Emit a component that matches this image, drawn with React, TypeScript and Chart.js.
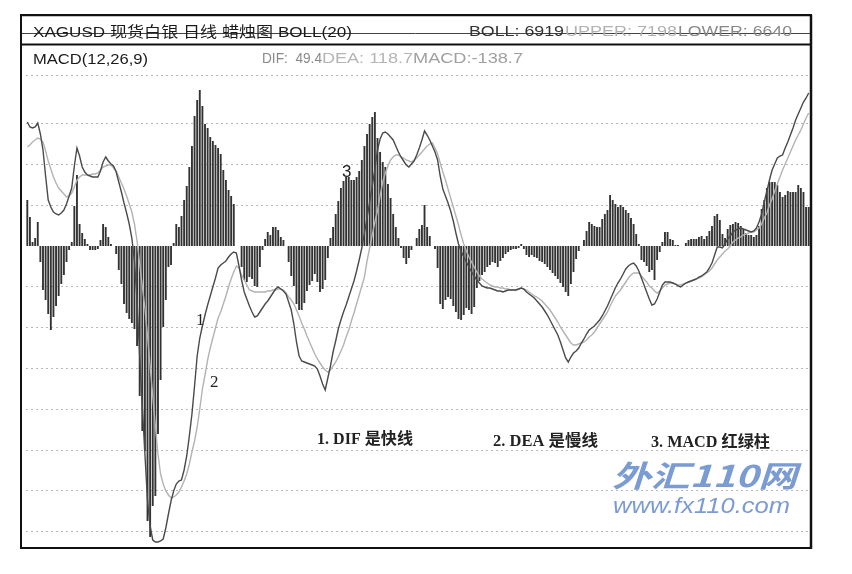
import React, { useEffect, useRef } from "react";
import { Chart, registerables } from "chart.js";

Chart.register(...registerables);

// MACD histogram (red/green bars), DIF (fast line), DEA (slow line)
const MACD_BARS: number[] = [
  46, 29, 4, 8, 24, -16, -44, -54, -68, -84,
  -71, -60, -50, -38, -29, -16, -4, 4, 40, 71,
  22, 13, 7, 2, -4, -4, -4, -3, 6, 22,
  19, 9, 2, 0, -8, -24, -38, -58, -67, -73,
  -77, -83, -100, -150, -185, -205, -275, -291, -260, -250,
  -188, -134, -81, -54, -21, -19, 3, 22, 19, 30,
  46, 60, 79, 100, 130, 146, 156, 140, 122, 118,
  109, 105, 101, 98, 92, 76, 66, 56, 50, 42,
  0, 0, -21, -34, -36, -31, -33, -40, -41, -21,
  -4, 7, 14, 11, 19, 19, 16, 9, 6, 0,
  -16, -30, -40, -58, -64, -64, -57, -45, -39, -35,
  -28, -36, -46, -43, -34, -12, 8, 19, 32, 45,
  58, 65, 69, 69, 66, 66, 69, 75, 86, 100,
  112, 122, 129, 134, 108, 94, 84, 79, 62, 48,
  32, 19, 8, -2, -12, -18, -12, -4, 0, 8,
  17, 21, 41, 19, 10, 0, -3, -22, -58, -63,
  -54, -51, -53, -60, -66, -73, -74, -69, -62, -64,
  -68, -61, -42, -35, -29, -26, -21, -19, -16, -17,
  -21, -15, -12, -8, -6, -4, -3, -3, -2, 2,
  -3, -9, -11, -9, -11, -12, -15, -16, -18, -21,
  -24, -27, -30, -33, -37, -41, -46, -50, -38, -26,
  -13, -5, 0, 6, 15, 24, 22, 20, 19, 19,
  27, 32, 36, 51, 46, 42, 39, 41, 39, 36,
  33, 28, 22, 12, 2, -14, -16, -20, -26, -24,
  -34, -14, -6, 4, 14, 14, 7, 6, 1, 1,
  0, 0, 3, 6, 7, 7, 7, 9, 10, 7,
  10, 15, 20, 30, 32, 26, 12, 8, 17, 21,
  22, 24, 23, 20, 17, 13, 11, 11, 9, 11,
  20, 37, 46, 58, 64, 64, 64, 61, 54, 49,
  51, 55, 54, 54, 54, 61, 58, 54, 39, 39,
];

const DIF: number[] = [
  124, 119, 118, 119, 123, 112, 96, 70, 46, 39,
  34, 32, 31, 33, 36, 42, 50, 58, 80, 98,
  90, 79, 74, 71, 70, 69, 69, 69, 75, 84,
  89, 85, 82, 80, 74, 64, 54, 43, 33, 22,
  8, -15, -55, -110, -160, -208, -255, -280, -294, -296,
  -296, -295, -293, -282, -268, -255, -245, -238, -235, -234,
  -224, -210, -190, -168, -140, -110, -92, -80, -69, -59,
  -50, -41, -32, -22, -19, -17, -15, -11, -8, -6,
  -7, -20, -34, -46, -53, -60, -66, -71, -70, -66,
  -62, -58, -55, -51, -47, -43, -41, -43, -45, -48,
  -56, -64, -78, -96, -110, -115, -116, -117, -118, -119,
  -120, -123, -130, -138, -144, -132, -120, -106, -95, -83,
  -74, -66, -59, -51, -43, -35, -25, -14, -2, 13,
  28, 44, 60, 77, 96, 107, 113, 114, 112, 109,
  106, 100, 94, 89, 85, 81, 79, 82, 85, 91,
  98, 106, 115, 111, 106, 100, 94, 86, 70, 57,
  50, 43, 35, 25, 13, 2, -5, -11, -16, -21,
  -26, -30, -34, -37, -40, -41, -42, -42, -43, -44,
  -45, -45, -46, -45, -44, -44, -44, -44, -43, -42,
  -43, -46, -48, -50, -52, -55, -58, -61, -65, -69,
  -74, -79, -84, -89, -96, -104, -112, -116, -111, -107,
  -105, -102, -97, -93, -88, -84, -82, -80, -77, -74,
  -70, -65, -60, -54, -48, -42, -37, -33, -28, -23,
  -20, -18, -17, -20, -25, -32, -39, -46, -53, -59,
  -58, -53, -46, -39, -36, -36, -36, -37, -38, -40,
  -41, -39, -37, -36, -35, -34, -33, -31, -30, -28,
  -26, -22, -17, -9, -1, -1, -2, 2, 7, 10,
  14, 16, 17, 18, 17, 16, 15, 14, 15, 18,
  24, 32, 44, 55, 66, 76, 82, 88, 90, 91,
  98, 104, 111, 118, 126, 132, 138, 144, 148, 153,
];

const DEA: number[] = [
  99, 101, 104, 106, 108, 107, 104, 95, 85, 77,
  69, 63, 58, 55, 52, 49, 50, 53, 59, 66,
  69, 71, 71, 71, 71, 72, 72, 73, 76, 79,
  80, 81, 81, 78, 75, 69, 63, 57, 50, 42,
  34, 22, 5, -18, -40, -62, -90, -120, -150, -180,
  -208, -228, -238, -245, -249, -252, -251, -249, -246, -241,
  -235, -228, -218, -206, -195, -181, -163, -143, -129, -114,
  -102, -92, -82, -72, -66, -58, -50, -41, -33, -26,
  -20, -22, -29, -34, -39, -44, -45, -46, -46, -46,
  -46, -46, -45, -45, -44, -44, -43, -43, -44, -47,
  -51, -54, -58, -64, -70, -77, -83, -90, -96, -102,
  -108, -113, -117, -121, -124, -126, -124, -120, -116, -111,
  -105, -99, -91, -84, -75, -67, -58, -49, -40, -31,
  -15, -2, 11, 24, 35, 50, 64, 73, 80, 86,
  89, 91, 91, 89, 88, 86, 85, 84, 86, 88,
  91, 94, 97, 100, 102, 103, 98, 92, 83, 74,
  66, 57, 48, 39, 30, 21, 11, 2, -5, -11,
  -16, -21, -26, -30, -33, -35, -37, -39, -40, -41,
  -41, -42, -42, -43, -43, -44, -44, -44, -43, -42,
  -43, -44, -46, -48, -50, -51, -53, -55, -58, -61,
  -64, -68, -72, -76, -81, -85, -89, -93, -97, -99,
  -99, -98, -97, -96, -94, -91, -89, -86, -82, -78,
  -74, -70, -66, -60, -55, -50, -47, -44, -40, -36,
  -32, -29, -27, -27, -27, -30, -33, -36, -40, -42,
  -45, -47, -45, -42, -39, -38, -37, -37, -38, -39,
  -39, -38, -37, -36, -35, -34, -33, -32, -31, -29,
  -27, -25, -22, -18, -14, -11, -8, -5, -3, 0,
  4, 6, 8, 9, 11, 12, 13, 14, 14, 16,
  18, 22, 28, 33, 41, 47, 55, 62, 69, 76,
  82, 88, 94, 100, 106, 111, 116, 122, 128, 133,
];

const DAYS: string[] = MACD_BARS.map((_, i) => String(i + 1));

// dotted horizontal grid levels
const GRID_LEVELS: number[] = [-285.6, -244.8, -204, -163.2, -122.4, -81.6, -40.8, 40.8, 81.6, 122.4, 171];
const Y_MIN = -302;
const Y_MAX = 171;

const TITLE = "XAGUSD 现货白银 日线 蜡烛图 BOLL(20)";
const BOLL_TEXT = ["BOLL: 6919", "UPPER: 7198", "LOWER: 6640"];
const MACD_TEXT = ["MACD(12,26,9)", "DIF:  49.4", "DEA: 118.7", "MACD:-138.7"];
const NOTES = ["1. DIF 是快线", "2. DEA 是慢线", "3. MACD 红绿柱"];

function fitText(ctx: CanvasRenderingContext2D, text: string, x: number, y: number, width: number, font: string, color: string) {
  ctx.save();
  ctx.font = font;
  ctx.textBaseline = "middle";
  ctx.textAlign = "left";
  const w = ctx.measureText(text).width;
  ctx.translate(x, y);
  ctx.scale(width / w, 1);
  ctx.fillStyle = color;
  ctx.fillText(text, 0, 0);
  ctx.restore();
}

const decor = {
  id: "decor",
  beforeDraw(chart: any) {
    const ctx = chart.ctx as CanvasRenderingContext2D;
    ctx.save();
    ctx.fillStyle = "#ffffff";
    ctx.fillRect(0, 0, chart.width, chart.height);
    ctx.restore();
  },
  afterDraw(chart: any) {
    const ctx = chart.ctx as CanvasRenderingContext2D;
    ctx.save();
    // header strike line
    ctx.strokeStyle = "#444";
    ctx.lineWidth = 1;
    ctx.beginPath();
    ctx.moveTo(20, 33.5);
    ctx.lineTo(811, 33.5);
    ctx.stroke();
    // header texts
    const sans = "'Liberation Sans', 'Noto Sans CJK SC', sans-serif";
    fitText(ctx, TITLE, 33, 33, 319, `15px ${sans}`, "#1a1a1a");
    fitText(ctx, BOLL_TEXT[0], 469, 32, 95, `15px ${sans}`, "#333");
    fitText(ctx, BOLL_TEXT[1], 565, 32, 112, `15px ${sans}`, "#b0b0b0");
    fitText(ctx, BOLL_TEXT[2], 678, 32, 114, `15px ${sans}`, "#888");
    fitText(ctx, MACD_TEXT[0], 33, 60, 115, `15px ${sans}`, "#1a1a1a");
    fitText(ctx, MACD_TEXT[1], 262, 59, 60, `15px ${sans}`, "#8a8a8a");
    fitText(ctx, MACD_TEXT[2], 322, 59, 91, `15px ${sans}`, "#b5b5b5");
    fitText(ctx, MACD_TEXT[3], 413, 59, 110, `15px ${sans}`, "#a0a0a0");

    // frame
    ctx.strokeStyle = "#111";
    ctx.lineWidth = 1.5;
    ctx.beginPath();
    ctx.moveTo(20, 15.5);
    ctx.lineTo(811, 15.5);
    ctx.stroke();
    ctx.lineWidth = 2;
    ctx.beginPath();
    ctx.moveTo(20, 44.5);
    ctx.lineTo(811, 44.5);
    ctx.stroke();
    ctx.strokeRect(21, 15, 790, 533);
    ctx.lineWidth = 2.5;
    ctx.beginPath();
    ctx.moveTo(811, 15);
    ctx.lineTo(811, 549);
    ctx.stroke();

    // annotations
    const serif = "'Liberation Serif', 'Noto Sans CJK SC', serif";
    ctx.fillStyle = "#222";
    ctx.textBaseline = "middle";
    ctx.font = `17px ${serif}`;
    ctx.fillText("1", 196, 321);
    ctx.fillText("2", 210, 383);
    ctx.font = `17px ${sans}`;
    ctx.fillText("3", 342, 172);

    fitText(ctx, NOTES[0], 317, 440, 96, `bold 16px ${serif}`, "#222");
    fitText(ctx, NOTES[1], 493, 442, 105, `bold 16px ${serif}`, "#222");
    fitText(ctx, NOTES[2], 651, 443, 119, `bold 16px ${serif}`, "#222");

    // watermark
    fitText(ctx, "外汇110网", 612, 476, 185, `italic bold 30px 'Noto Sans CJK SC', sans-serif`, "#7b9bd3");
    fitText(ctx, "www.fx110.com", 613, 507, 177, `italic 22px 'Liberation Sans', sans-serif`, "#7b9bd3");
    ctx.restore();
  },
};

export default function App() {
  const ref = useRef<HTMLCanvasElement>(null);
  useEffect(() => {
    if (!ref.current) return;
    const chart = new Chart(ref.current, {
      type: "bar",
      data: {
        labels: DAYS,
        datasets: [
          {
            type: "line",
            label: "DIF",
            data: DIF,
            borderColor: "#4a4a4a",
            borderWidth: 1.4,
            pointRadius: 0,
            tension: 0,
            order: 1,
          } as any,
          {
            type: "line",
            label: "DEA",
            data: DEA,
            borderColor: "#b3b3b3",
            borderWidth: 1.4,
            pointRadius: 0,
            tension: 0,
            order: 2,
          } as any,
          {
            type: "bar",
            label: "MACD",
            data: MACD_BARS,
            backgroundColor: "#333333",
            barPercentage: 0.72,
            categoryPercentage: 1,
            order: 3,
          },
        ],
      },
      options: {
        animation: false,
        responsive: false,
        maintainAspectRatio: false,
        layout: { padding: { left: 26, right: 42, top: 75, bottom: 26 } },
        plugins: { legend: { display: false }, tooltip: { enabled: false } },
        scales: {
          x: { type: "category", display: false, offset: true },
          y: {
            min: Y_MIN,
            max: Y_MAX,
            display: true,
            border: { display: false, dash: [2, 3] },
            ticks: { display: false, padding: 0 },
            grid: { color: "#b8b8b8", lineWidth: 1, drawTicks: false, tickLength: 0 },
            afterBuildTicks: (scale: any) => {
              scale.ticks = GRID_LEVELS.map((v) => ({ value: v }));
            },
          },
        },
      },
      plugins: [decor],
    });
    return () => chart.destroy();
  }, []);
  return (
    <div style={{ position: "absolute", left: 0, top: 0, width: 852, height: 574, background: "#fff" }}>
      <canvas ref={ref} width={852} height={574} style={{ width: 852, height: 574, display: "block" }} />
    </div>
  );
}
